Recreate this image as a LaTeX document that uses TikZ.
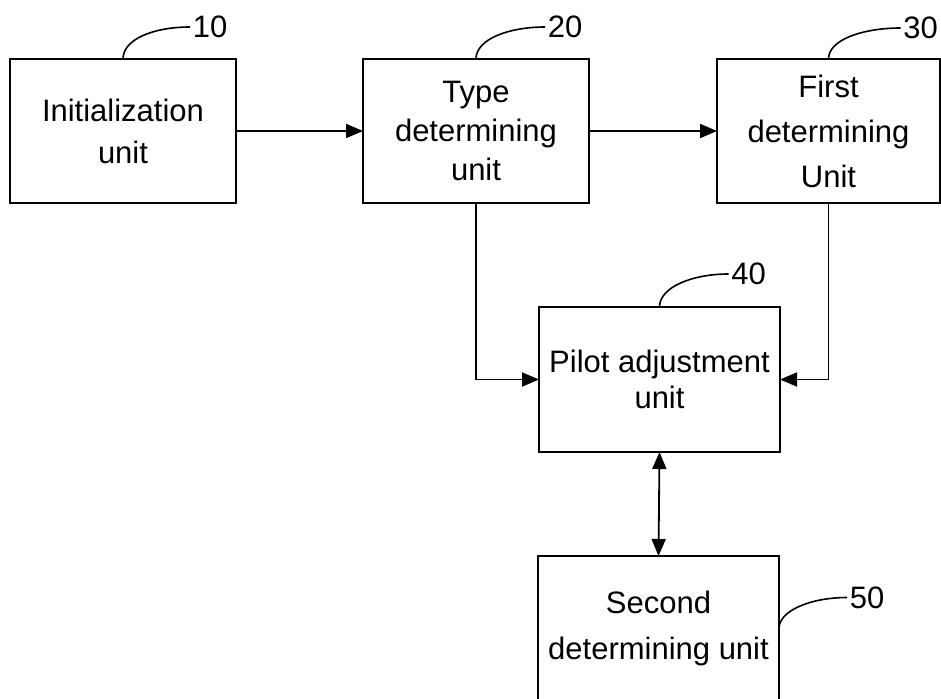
\documentclass[tikz,border=0pt]{standalone}
\usepackage{fontspec}
\setmainfont{Liberation Sans}
\usetikzlibrary{arrows.meta,positioning}
\tikzset{%
   unit/.style={rectangle, draw=black, line width=1.8pt, outer sep=0pt, inner sep=3pt,
      minimum width=226pt, minimum height=144pt, align=center,
      font=\fontsize{31}{42}\selectfont},
   flow/.style={line width=1.8pt, -{Triangle[length=17pt, width=14pt]}},
   both/.style={line width=1.8pt, {Triangle[length=17pt, width=14pt]}-{Triangle[length=17pt, width=14pt]}},
   lead/.style={line width=1.6pt},
   num/.style={anchor=west, inner sep=2pt, font=\fontsize{31}{36}\selectfont},
}

\begin{document}
\begin{tikzpicture}
   \useasboundingbox (0,0) rectangle (941pt,-698pt);
   \node[unit] (init) at (123pt,-131pt) {Initialization\\unit};
   \node[unit, right=127pt of init] (type) {Type\\[-3pt]determining\\[-3pt]unit};
   \node[unit, right=128pt of type, minimum width=223pt] (first) {First\\[3pt]determining\\[3pt]Unit};
   \node[unit, below=104pt of type, xshift=183.5pt, minimum width=241pt, minimum height=145pt,
      font=\fontsize{31}{36}\selectfont] (adjust) {Pilot adjustment\\unit};
   \node[unit, below=104pt of adjust, xshift=-1pt, minimum width=241pt, minimum height=145pt,
      font=\fontsize{31}{46}\selectfont] (second) {Second\\determining unit};
   % connectors
   \draw[flow] (init) -- (type);
   \draw[flow] (type) -- (first);
   \draw[flow] (type.south) |- (adjust.west);
   \draw[flow] (first.south) |- (adjust.east);
   \draw[both] (adjust.south) -- (second.north);
   % reference numbers
   \draw[lead] (init.north) .. controls +(0,20pt) and +(-36pt,0) .. ++(67pt,32pt) node[num] (n10) {10};
   \draw[lead] (type.north) .. controls +(0,20pt) and +(-36pt,0) .. ++(69pt,32pt) node[num] (n20) {20};
   \draw[lead] (first.north) .. controls +(0,20pt) and +(-36pt,0) .. ++(72pt,31pt) node[num] (n30) {30};
   \draw[lead] (adjust.north) .. controls +(0,20pt) and +(-36pt,0) .. ++(69pt,33pt) node[num] (n40) {40};
   \draw[lead] (second.east) .. controls +(0,18pt) and +(-36pt,0) .. ++(68pt,31pt) node[num] (n50) {50};
\end{tikzpicture}
\end{document}
